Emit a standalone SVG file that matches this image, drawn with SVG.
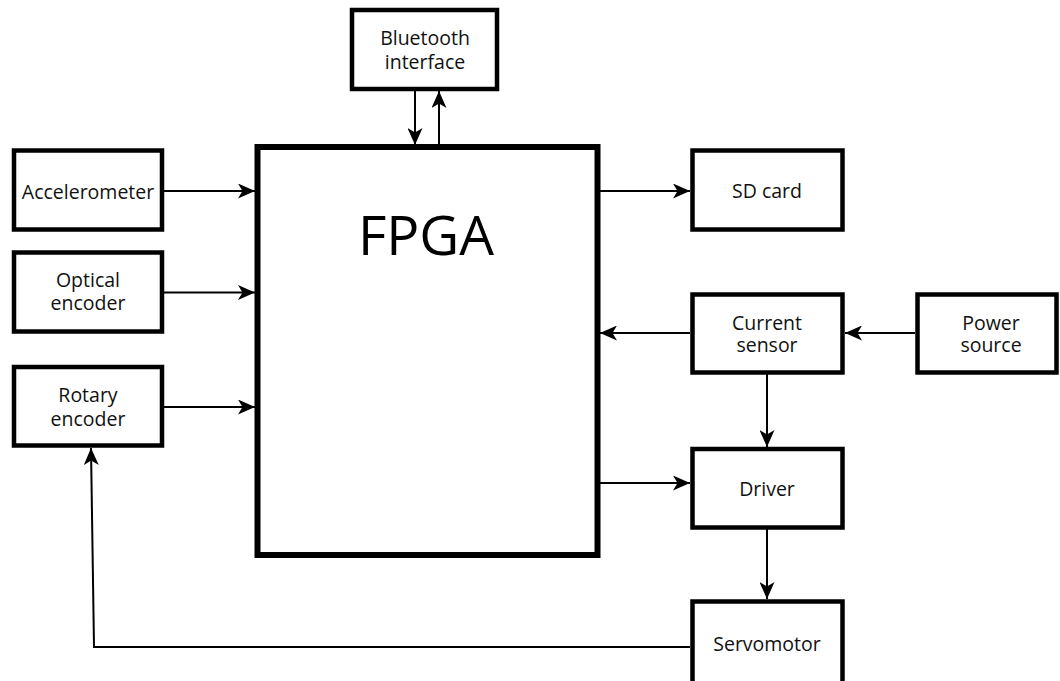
<svg xmlns="http://www.w3.org/2000/svg" width="1060" height="681" viewBox="0 0 1060 681">
<style>
.box{fill:#fff;stroke:#000;stroke-width:4.5}
.big{fill:#fff;stroke:#000;stroke-width:6}
.lbl{font-family:"Open Sans","DejaVu Sans",sans-serif;font-size:19.5px;fill:#111;text-anchor:middle}
.title{font-family:"Open Sans","DejaVu Sans",sans-serif;font-size:55px;fill:#000;text-anchor:middle}
.con{fill:none;stroke:#000;stroke-width:2;marker-end:url(#arr)}
</style>
<defs>
<marker id="arr" markerUnits="userSpaceOnUse" markerWidth="18" markerHeight="15" refX="17" refY="7.5" orient="auto" viewBox="0 0 18 15">
<path d="M17,7.5 L0,0 L4.5,7.5 L0,15 z" fill="#000"/>
</marker>
</defs>
<rect width="1060" height="681" fill="#fff"/>
<g id="connectors">
<line class="con" x1="164" y1="191" x2="255" y2="191"/>
<line class="con" x1="164" y1="292.5" x2="255" y2="292.5"/>
<line class="con" x1="164" y1="407" x2="255" y2="407"/>
<line class="con" x1="415" y1="91" x2="415" y2="145"/>
<line class="con" x1="439" y1="145" x2="439" y2="91"/>
<line class="con" x1="600" y1="191" x2="690" y2="191"/>
<line class="con" x1="690" y1="333" x2="600" y2="333"/>
<line class="con" x1="915" y1="333" x2="845" y2="333"/>
<line class="con" x1="767" y1="374" x2="767" y2="447"/>
<line class="con" x1="600" y1="483" x2="690" y2="483"/>
<line class="con" x1="767" y1="529" x2="767" y2="599"/>
<polyline class="con" points="690,647 94,647 91,448"/>
</g>
<g id="fpga"><rect class="big" x="257.5" y="147" width="340" height="408"/><text class="title" x="426" y="255">FPGA</text></g>
<g id="bluetooth"><rect class="box" x="352" y="10" width="145" height="79"/><text class="lbl" x="425" y="45">Bluetooth</text><text class="lbl" x="425" y="69">interface</text></g>
<g id="accelerometer"><rect class="box" x="14" y="150.5" width="148" height="79"/><text class="lbl" x="88" y="199">Accelerometer</text></g>
<g id="optical"><rect class="box" x="14" y="252.5" width="148" height="79"/><text class="lbl" x="88" y="287">Optical</text><text class="lbl" x="88" y="310">encoder</text></g>
<g id="rotary"><rect class="box" x="14" y="367" width="148" height="78.5"/><text class="lbl" x="88" y="402">Rotary</text><text class="lbl" x="88" y="426">encoder</text></g>
<g id="sdcard"><rect class="box" x="692.5" y="150.5" width="150" height="79"/><text class="lbl" x="767" y="198">SD card</text></g>
<g id="current"><rect class="box" x="692.5" y="294.5" width="150" height="78"/><text class="lbl" x="767" y="330">Current</text><text class="lbl" x="767" y="352">sensor</text></g>
<g id="power"><rect class="box" x="917.5" y="294.5" width="139" height="78"/><text class="lbl" x="991" y="330">Power</text><text class="lbl" x="991" y="352">source</text></g>
<g id="driver"><rect class="box" x="692.5" y="449" width="150" height="78.5"/><text class="lbl" x="767" y="496">Driver</text></g>
<g id="servomotor"><rect class="box" x="692.5" y="601.5" width="150" height="85"/><text class="lbl" x="767" y="651">Servomotor</text></g>
</svg>
